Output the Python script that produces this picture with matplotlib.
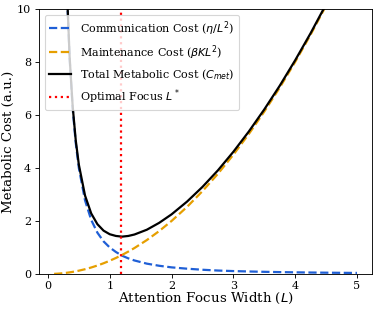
import matplotlib
matplotlib.use("Agg")
import matplotlib.pyplot as plt
import numpy as np

L = [0.1, 0.15, 0.2, 0.25, 0.3, 0.35, 0.4, 0.45, 0.5, 0.6, 0.7, 0.8, 0.9,
     1.0, 1.1, 1.2, 1.3, 1.4, 1.6, 1.8, 2.0, 2.25, 2.5, 2.75, 3.0, 3.25,
     3.5, 3.75, 4.0, 4.25, 4.5, 4.75, 5.0]
comm_cost = [100.0, 44.4, 25.0, 16.0, 11.1, 8.16, 6.25, 4.94, 4.0, 2.78,
             2.04, 1.56, 1.23, 1.0, 0.83, 0.69, 0.59, 0.51, 0.39, 0.31,
             0.25, 0.20, 0.16, 0.13, 0.11, 0.095, 0.082, 0.071, 0.0625,
             0.055, 0.049, 0.044, 0.04]
maint_cost = [0.005, 0.011, 0.02, 0.031, 0.045, 0.061, 0.08, 0.101, 0.125,
              0.18, 0.245, 0.32, 0.405, 0.5, 0.605, 0.72, 0.845, 0.98, 1.28,
              1.62, 2.0, 2.53, 3.125, 3.78, 4.5, 5.28, 6.125, 7.03, 8.0,
              9.03, 10.125, 11.28, 12.5]
total_cost = [c + m for c, m in zip(comm_cost, maint_cost)]
L_opt = 1.19

DPI = 80
plt.rcParams["font.family"] = "DejaVu Serif"
plt.rcParams["mathtext.fontset"] = "dejavusans"

fig = plt.figure(figsize=(377 / DPI, 309 / DPI), dpi=DPI)
ax = fig.add_axes([0.1034, 0.1133, 0.8836, 0.8577])

ax.plot(L, comm_cost, "--", color="#1f5fd6", lw=2,
        label=r"Communication Cost ($\eta/L^2$)")
ax.plot(L, maint_cost, "--", color="#e69f00", lw=2,
        label=r"Maintenance Cost ($\beta K L^2$)")
ax.plot(L, total_cost, "-", color="black", lw=2,
        label=r"Total Metabolic Cost ($C_{met}$)")
ax.axvline(L_opt, color="red", ls=":", lw=2, label=r"Optimal Focus $L^*$")

ax.set_ylim(0, 10)
ax.set_xticks([0, 1, 2, 3, 4, 5])
ax.set_yticks([0, 2, 4, 6, 8, 10])
ax.tick_params(labelsize=10)
ax.tick_params(axis="x", pad=2.5)
ax.set_xlabel("Attention Focus Width ($L$)", fontsize=12, labelpad=0.5)
ax.set_ylabel("Metabolic Cost (a.u.)", fontsize=12, labelpad=2)

ax.legend(loc="upper left", fontsize=10)

fig.savefig("out.png", dpi=DPI)
